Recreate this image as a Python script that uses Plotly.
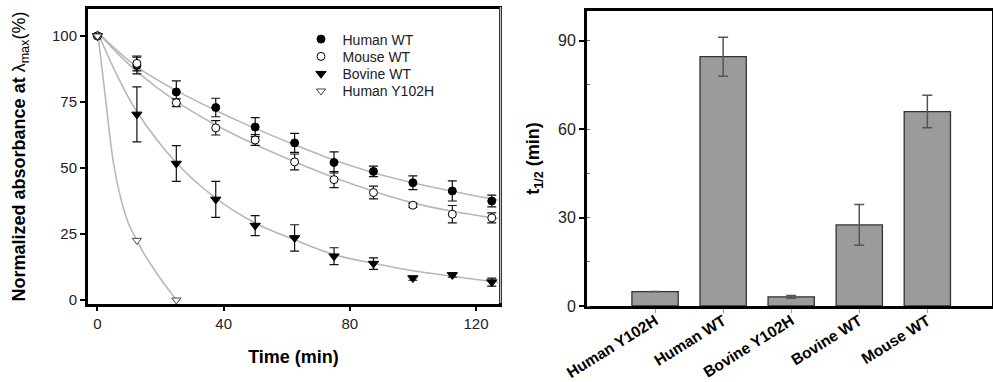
import plotly.graph_objects as go

# ---- left panel data ----
time = [0, 12.5, 25, 37.5, 50, 62.5, 75, 87.5, 100, 112.5, 125]
human_wt = [100, 88.8, 78.8, 72.9, 65.5, 59.5, 52.1, 48.7, 44.4, 41.3, 37.5]
human_wt_err = [0, 3.2, 4.2, 3.5, 3.6, 3.6, 4.0, 2.0, 2.6, 3.8, 2.2]
mouse_wt = [100, 89.6, 74.7, 65.2, 60.6, 52.3, 45.6, 40.7, 35.9, 32.5, 31.1]
mouse_wt_err = [0, 2.8, 1.5, 2.7, 2.0, 3.0, 3.0, 2.4, 0.8, 3.3, 1.9]
bovine_wt = [100, 70.3, 51.7, 38.1, 28.2, 23.5, 16.6, 13.8, 8.3, 9.5, 6.8]
bovine_wt_err = [0, 10.4, 6.8, 6.8, 3.8, 5.0, 3.2, 2.2, 0.8, 0.8, 1.5]
y102h_time = [0, 12.5, 25]
human_y102h = [100, 22.6, 0]

# fitted curves
fit_time = [0, 6.25, 12.5, 25, 37.5, 50, 62.5, 75, 87.5, 100, 112.5, 125, 127]
fit_human_wt = [101.5, 94.5, 88.3, 79.3, 71.8, 65.0, 58.8, 53.0, 48.2, 44.4, 41.2, 38.3, 37.9]
fit_mouse_wt = [101.5, 93.5, 86.5, 75.2, 66.3, 58.9, 52.4, 46.4, 41.2, 36.8, 33.6, 31.2, 30.9]
fit_bovine_wt = [101.5, 85.0, 71.3, 52.0, 38.6, 29.2, 22.8, 17.2, 13.9, 11.1, 9.0, 7.0, 6.7]
fit_y102h_time = [0, 2.5, 5, 7.5, 10, 12.5, 15, 17.5, 20, 22.5, 25]
fit_y102h = [102, 77, 52.5, 38, 28.5, 22.6, 17, 12.5, 8, 4, 0]

x_ticks_left = [0, 40, 80, 120]
y_ticks_left = [0, 25, 50, 75, 100]

# ---- right panel data ----
variants = ["Human Y102H", "Human WT", "Bovine Y102H", "Bovine WT", "Mouse WT"]
half_life = [4.9, 84.5, 3.1, 27.5, 65.9]
half_life_err = [0, 6.6, 0.5, 6.9, 5.5]
y_ticks_right = [0, 30, 60, 90]

W, H = 993, 382
FONT = "Liberation Sans, Arial, sans-serif"
FIT_COLOR = "#b8b8b8"

fig = go.Figure()

# fit curves
for ft, fy in [(fit_time, fit_human_wt), (fit_time, fit_mouse_wt),
               (fit_time, fit_bovine_wt), (fit_y102h_time, fit_y102h)]:
    fig.add_trace(go.Scatter(x=ft, y=fy, mode="lines", line=dict(color=FIT_COLOR, width=1.6, shape="spline"),
                             showlegend=False, hoverinfo="skip", xaxis="x", yaxis="y"))

err_style = dict(type="data", color="#111111", thickness=1.2, width=4.5)

fig.add_trace(go.Scatter(x=time, y=human_wt, mode="markers", name="Human WT", legend="legend",
                         error_y=dict(array=human_wt_err, **err_style),
                         marker=dict(symbol="circle", size=8, color="black", line=dict(color="black", width=1)),
                         xaxis="x", yaxis="y"))
fig.add_trace(go.Scatter(x=time, y=mouse_wt, mode="markers", name="Mouse WT", legend="legend2",
                         error_y=dict(array=mouse_wt_err, **err_style),
                         marker=dict(symbol="circle", size=8, color="white", line=dict(color="black", width=1)),
                         xaxis="x", yaxis="y"))
fig.add_trace(go.Scatter(x=time, y=bovine_wt, mode="markers", name="Bovine WT", legend="legend3",
                         error_y=dict(array=bovine_wt_err, **err_style),
                         marker=dict(symbol="triangle-down", size=9, color="black", line=dict(color="black", width=1)),
                         xaxis="x", yaxis="y"))
fig.add_trace(go.Scatter(x=y102h_time, y=human_y102h, mode="markers", name="Human Y102H", legend="legend4",
                         marker=dict(symbol="triangle-down", size=8, color="white", line=dict(color="#444444", width=1)),
                         xaxis="x", yaxis="y"))

# bars
fig.add_trace(go.Bar(x=variants, y=half_life, width=0.68,
                     marker=dict(color="#9b9b9b", line=dict(color="#333333", width=1.3)),
                     error_y=dict(type="data", array=half_life_err, color="#555555", thickness=1.5, width=5),
                     showlegend=False, xaxis="x2", yaxis="y2"))

tick_font = dict(family=FONT, size=15, color="#222222")
title_font = dict(family=FONT, size=18, color="black")


def legend_at(top_px):
    return dict(x=299.5 / W, xanchor="left", y=(H - top_px) / H, yanchor="top",
                font=dict(family=FONT, size=14, color="#222222"), bgcolor="rgba(0,0,0,0)",
                itemwidth=33, itemclick=False)


fig.update_layout(
    width=W, height=H,
    margin=dict(l=0, r=0, t=0, b=0, autoexpand=False),
    paper_bgcolor="white", plot_bgcolor="white",
    font=dict(family=FONT),
    xaxis=dict(domain=[88 / W, 499 / W], range=[-3, 127.3], tickvals=x_ticks_left, automargin=False,
               showgrid=False, zeroline=False, showline=True, linecolor="black", linewidth=3, mirror=True,
               ticks="outside", ticklen=4, tickwidth=1.5, tickcolor="black", tickfont=tick_font,
               title=dict(text="<b>Time (min)</b>", font=title_font, standoff=20)),
    yaxis=dict(domain=[(H - 304) / H, (H - 9) / H], range=[-1.5, 110.2], tickvals=y_ticks_left, automargin=False,
               showgrid=False, zeroline=False, showline=True, linecolor="black", linewidth=3, mirror=True,
               ticks="outside", ticklen=5, tickwidth=1.5, tickcolor="black", tickfont=tick_font,
               title=dict(text="<b>Normalized absorbance at </b>λ<sub>max</sub>(%)", font=title_font, standoff=22)),
    xaxis2=dict(domain=[587 / W, 992 / W], range=[-1, 4.95], type="category", anchor="y2", automargin=False,
                showgrid=False, zeroline=False, showline=True, linecolor="black", linewidth=3, mirror=True,
                ticks="outside", ticklen=4, tickwidth=1, tickcolor="#999999", tickangle=-32,
                ticklabelstandoff=-7,
                tickfont=dict(family=FONT, size=15.5, color="black", weight="bold")),
    yaxis2=dict(domain=[(H - 306) / H, (H - 11) / H], range=[0, 100], tickvals=y_ticks_right, anchor="x2",
                automargin=False,
                showgrid=False, zeroline=False, showline=True, linecolor="black", linewidth=3, mirror=True,
                ticks="outside", ticklen=5, tickwidth=1.5, tickcolor="black",
                tickfont=dict(family=FONT, size=16, color="#222222"),
                minor=dict(ticks="inside", ticklen=3, dtick=15, tickcolor="#666666", tickwidth=1),
                title=dict(text="<b>t<sub>1/2</sub> (min)</b>", font=title_font, standoff=14)),
    legend=legend_at(23.5),
    legend2=legend_at(40.8),
    legend3=legend_at(58.1),
    legend4=legend_at(75.4),
    shapes=[dict(type="line", xref="paper", yref="paper", x0=500.5 / W, x1=500.5 / W,
                 y0=(H - 303) / H, y1=(H - 7) / H, line=dict(color="#c8c8c8", width=1.5))],
)

fig.write_html("out.html")
